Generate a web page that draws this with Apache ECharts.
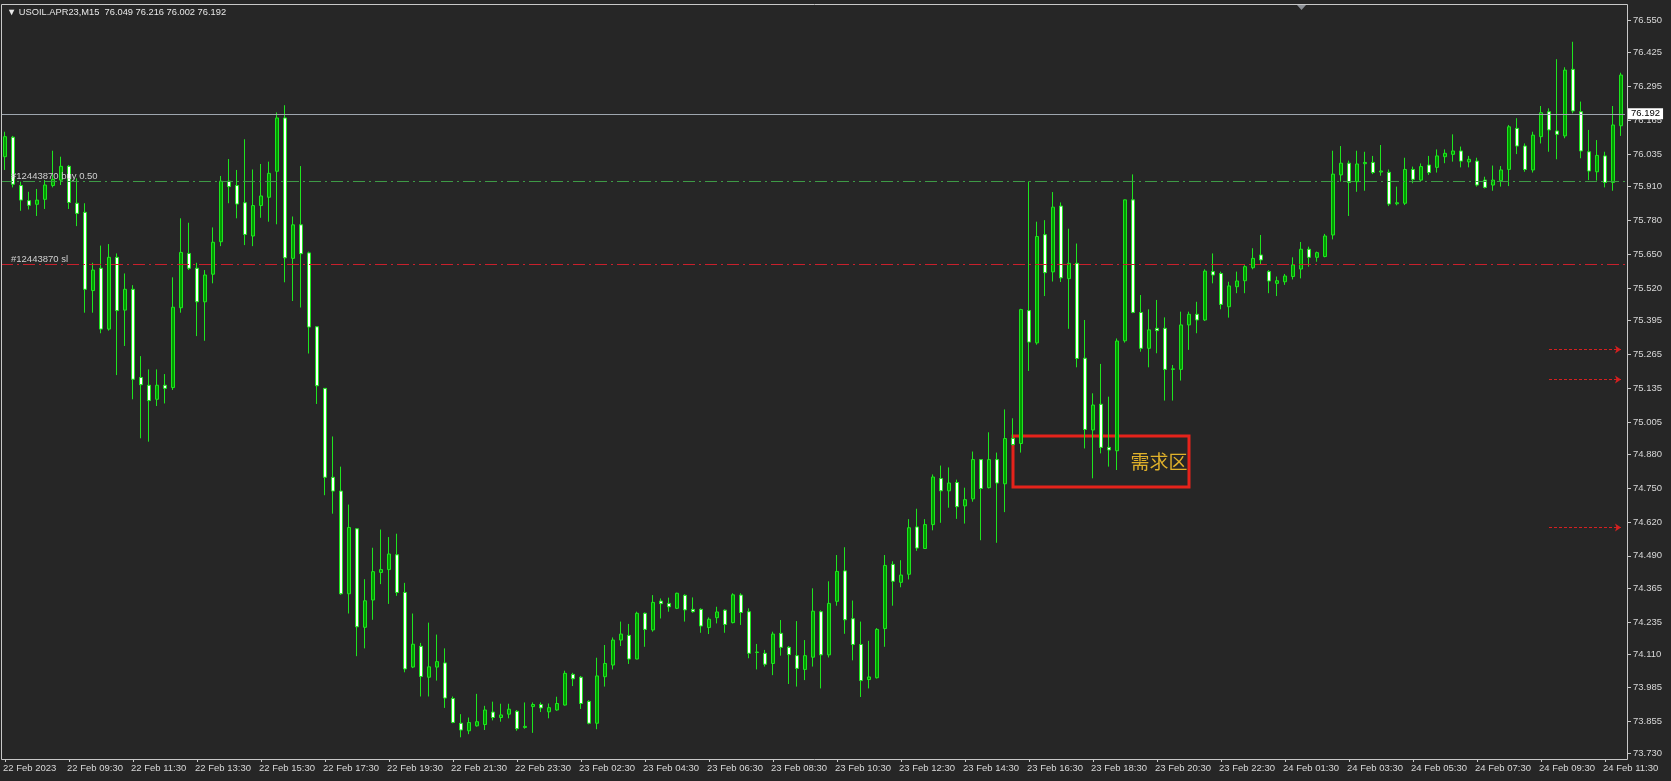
<!DOCTYPE html>
<html>
<head>
<meta charset="utf-8">
<title>USOIL.APR23,M15</title>
<script src="https://cdn.jsdelivr.net/npm/echarts@6/dist/echarts.min.js"></script>
<style>
  html, body { margin: 0; padding: 0; background: #262626; }
  #chart { width: 1671px; height: 781px; }
</style>
</head>
<body>
<div id="chart"></div>
<script>
// M15 bars, each row: open, high, low, close
const feb22 = [
  [76.025, 76.121, 75.974, 76.102], [76.100, 76.105, 75.907, 75.919], [75.914, 75.929, 75.817, 75.858],
  [75.856, 75.890, 75.822, 75.838], [75.842, 75.901, 75.797, 75.858], [75.861, 75.935, 75.824, 75.916],
  [75.914, 76.048, 75.907, 75.938], [75.935, 76.025, 75.916, 75.988], [75.988, 75.993, 75.824, 75.849],
  [75.846, 75.942, 75.758, 75.807], [75.811, 75.846, 75.425, 75.515], [75.510, 75.617, 75.425, 75.589],
  [75.596, 75.683, 75.346, 75.362], [75.362, 75.689, 75.356, 75.638], [75.638, 75.653, 75.185, 75.433],
  [75.435, 75.576, 75.297, 75.515], [75.515, 75.531, 75.092, 75.169], [75.176, 75.258, 74.942, 75.148],
  [75.146, 75.207, 74.929, 75.087], [75.092, 75.207, 75.066, 75.146], [75.146, 75.189, 75.076, 75.134],
  [75.137, 75.561, 75.128, 75.446], [75.444, 75.788, 75.425, 75.657], [75.653, 75.771, 75.589, 75.596],
  [75.596, 75.617, 75.335, 75.467], [75.467, 75.589, 75.317, 75.570], [75.573, 75.753, 75.538, 75.696],
  [75.698, 75.951, 75.681, 75.931], [75.931, 76.016, 75.846, 75.910], [75.914, 75.974, 75.788, 75.843],
  [75.848, 76.092, 75.685, 75.726], [75.720, 75.976, 75.681, 75.837], [75.837, 75.997, 75.790, 75.874],
  [75.869, 76.006, 75.775, 75.961], [75.969, 76.195, 75.765, 76.174], [76.174, 76.223, 75.542, 75.636],
  [75.634, 75.795, 75.470, 75.763], [75.763, 75.989, 75.445, 75.652], [75.655, 75.660, 75.268, 75.370],
  [75.371, 75.372, 75.074, 75.144], [75.134, 75.135, 74.723, 74.792], [74.792, 74.949, 74.652, 74.739],
  [74.739, 74.833, 74.340, 74.344], [74.344, 74.687, 74.268, 74.599], [74.594, 74.597, 74.104, 74.217],
  [74.215, 74.400, 74.134, 74.317], [74.320, 74.521, 74.244, 74.429], [74.426, 74.591, 74.381, 74.437],
  [74.437, 74.562, 74.305, 74.497], [74.494, 74.575, 74.336, 74.349], [74.349, 74.386, 74.042, 74.055],
  [74.062, 74.268, 74.058, 74.150], [74.142, 74.155, 73.949, 74.026], [74.023, 74.233, 73.949, 74.063],
  [74.062, 74.187, 74.010, 74.083], [74.078, 74.134, 73.905, 73.943], [73.941, 73.949, 73.846, 73.849],
  [73.846, 73.881, 73.792, 73.820], [73.817, 73.868, 73.804, 73.849], [73.836, 73.959, 73.833, 73.852],
  [73.841, 73.913, 73.820, 73.897], [73.889, 73.929, 73.857, 73.868], [73.868, 73.921, 73.852, 73.878],
  [73.881, 73.921, 73.865, 73.900], [73.892, 73.897, 73.817, 73.825], [73.830, 73.926, 73.825, 73.834]
];
const feb23 = [
  [73.910, 73.926, 73.809, 73.918], [73.918, 73.926, 73.889, 73.905], [73.890, 73.922, 73.865, 73.906],
  [73.897, 73.948, 73.894, 73.922], [73.916, 74.048, 73.914, 74.038], [74.034, 74.040, 73.989, 74.017],
  [74.023, 74.028, 73.901, 73.922], [73.930, 73.935, 73.842, 73.846], [73.846, 74.098, 73.823, 74.028],
  [74.025, 74.147, 73.987, 74.076], [74.070, 74.176, 74.053, 74.166], [74.166, 74.237, 74.143, 74.189],
  [74.184, 74.228, 74.074, 74.093], [74.093, 74.275, 74.092, 74.269], [74.269, 74.272, 74.140, 74.207],
  [74.205, 74.339, 74.198, 74.311], [74.316, 74.326, 74.249, 74.306], [74.307, 74.329, 74.275, 74.294],
  [74.288, 74.348, 74.285, 74.346], [74.338, 74.342, 74.237, 74.282], [74.284, 74.330, 74.271, 74.275],
  [74.284, 74.288, 74.194, 74.220], [74.214, 74.253, 74.189, 74.246], [74.252, 74.294, 74.230, 74.274],
  [74.281, 74.284, 74.194, 74.226], [74.233, 74.346, 74.230, 74.340], [74.339, 74.346, 74.224, 74.272],
  [74.275, 74.288, 74.096, 74.115], [74.118, 74.151, 74.053, 74.120], [74.115, 74.128, 74.064, 74.073],
  [74.076, 74.198, 74.031, 74.189], [74.192, 74.243, 74.106, 74.138], [74.138, 74.143, 73.997, 74.110],
  [74.106, 74.239, 73.987, 74.057], [74.053, 74.166, 74.012, 74.106], [74.100, 74.365, 74.064, 74.277],
  [74.275, 74.280, 73.980, 74.109], [74.109, 74.392, 74.099, 74.307], [74.315, 74.493, 74.298, 74.430],
  [74.432, 74.523, 74.190, 74.244], [74.248, 74.318, 74.088, 74.149], [74.149, 74.237, 73.947, 74.010],
  [74.014, 74.163, 73.980, 74.024], [74.021, 74.212, 74.018, 74.207], [74.210, 74.493, 74.140, 74.453],
  [74.457, 74.469, 74.298, 74.392], [74.388, 74.473, 74.369, 74.416], [74.419, 74.631, 74.399, 74.598],
  [74.601, 74.671, 74.509, 74.520], [74.518, 74.631, 74.516, 74.610], [74.610, 74.803, 74.588, 74.793],
  [74.787, 74.837, 74.617, 74.740], [74.740, 74.830, 74.675, 74.770], [74.772, 74.783, 74.632, 74.679],
  [74.682, 74.752, 74.614, 74.706], [74.709, 74.891, 74.698, 74.860], [74.860, 74.862, 74.550, 74.749],
  [74.752, 74.965, 74.749, 74.860], [74.860, 74.887, 74.540, 74.770], [74.767, 75.053, 74.658, 74.941],
  [74.941, 75.019, 74.914, 74.918], [74.922, 75.440, 74.887, 75.437], [75.433, 75.930, 75.201, 75.312],
  [75.309, 75.775, 75.302, 75.718], [75.725, 75.781, 75.489, 75.579], [75.582, 75.889, 75.545, 75.831],
  [75.835, 75.849, 75.543, 75.559], [75.556, 75.748, 75.363, 75.615], [75.615, 75.691, 75.215, 75.249],
  [75.250, 75.397, 74.903, 74.976], [74.974, 75.115, 74.788, 75.070], [75.073, 75.228, 74.884, 74.907],
  [74.907, 75.102, 74.833, 74.897], [74.894, 75.326, 74.820, 75.316], [75.317, 75.860, 75.310, 75.859],
  [75.859, 75.957, 75.423, 75.426], [75.426, 75.493, 75.275, 75.288], [75.288, 75.438, 75.215, 75.359],
  [75.365, 75.474, 75.269, 75.356], [75.365, 75.407, 75.087, 75.207], [75.207, 75.224, 75.087, 75.209],
  [75.207, 75.429, 75.164, 75.378], [75.378, 75.429, 75.282, 75.419], [75.419, 75.467, 75.346, 75.397],
  [75.397, 75.592, 75.393, 75.585], [75.583, 75.653, 75.538, 75.570], [75.576, 75.583, 75.438, 75.457],
  [75.448, 75.544, 75.406, 75.528], [75.525, 75.583, 75.500, 75.547], [75.548, 75.608, 75.500, 75.602],
  [75.598, 75.673, 75.592, 75.634], [75.647, 75.724, 75.612, 75.628]
];
const feb24 = [
  [75.583, 75.589, 75.500, 75.547], [75.538, 75.564, 75.489, 75.548], [75.544, 75.574, 75.532, 75.566],
  [75.564, 75.638, 75.553, 75.609], [75.593, 75.697, 75.557, 75.669], [75.669, 75.679, 75.602, 75.638],
  [75.638, 75.660, 75.621, 75.656], [75.641, 75.728, 75.638, 75.720], [75.724, 76.048, 75.707, 75.958],
  [75.955, 76.066, 75.929, 76.000], [76.000, 76.010, 75.797, 75.926], [75.929, 76.048, 75.890, 75.997],
  [75.998, 76.044, 75.894, 76.003], [76.003, 76.028, 75.958, 75.964], [75.966, 76.070, 75.952, 75.970],
  [75.965, 75.976, 75.835, 75.843], [75.844, 75.910, 75.838, 75.848], [75.846, 76.021, 75.839, 75.976],
  [75.976, 75.987, 75.923, 75.938], [75.935, 75.999, 75.929, 75.987], [75.993, 76.028, 75.955, 75.964],
  [75.984, 76.053, 75.964, 76.028], [76.025, 76.053, 76.000, 76.038], [76.034, 76.111, 76.006, 76.047],
  [76.047, 76.064, 75.984, 76.008], [76.005, 76.028, 75.984, 76.015], [76.008, 76.021, 75.910, 75.916],
  [75.935, 75.948, 75.903, 75.907], [75.916, 75.991, 75.894, 75.935], [75.933, 75.989, 75.910, 75.974],
  [75.976, 76.147, 75.912, 76.140], [76.134, 76.173, 76.035, 76.066], [76.066, 76.076, 75.967, 75.976],
  [75.974, 76.121, 75.964, 76.108], [76.102, 76.220, 76.076, 76.194], [76.198, 76.211, 76.044, 76.128],
  [76.124, 76.400, 76.015, 76.111], [76.105, 76.369, 76.096, 76.358], [76.361, 76.467, 76.192, 76.201],
  [76.198, 76.237, 76.019, 76.047], [76.044, 76.128, 75.935, 75.970], [75.967, 76.089, 75.933, 76.030],
  [76.028, 76.044, 75.907, 75.926], [75.926, 76.220, 75.894, 76.147], [76.144, 76.348, 76.105, 76.339]
];

const xTickLabels = [
  '22 Feb 2023', '22 Feb 09:30', '22 Feb 11:30', '22 Feb 13:30', '22 Feb 15:30', '22 Feb 17:30',
  '22 Feb 19:30', '22 Feb 21:30', '22 Feb 23:30', '23 Feb 02:30', '23 Feb 04:30', '23 Feb 06:30',
  '23 Feb 08:30', '23 Feb 10:30', '23 Feb 12:30', '23 Feb 14:30', '23 Feb 16:30', '23 Feb 18:30',
  '23 Feb 20:30', '23 Feb 22:30', '24 Feb 01:30', '24 Feb 03:30', '24 Feb 05:30', '24 Feb 07:30',
  '24 Feb 09:30', '24 Feb 11:30'
];
const yTickLabels = [
  '76.550', '76.425', '76.295', '76.165', '76.035', '75.910', '75.780', '75.650', '75.520', '75.395',
  '75.265', '75.135', '75.005', '74.880', '74.750', '74.620', '74.490', '74.365', '74.235', '74.110',
  '73.985', '73.855', '73.730'
];

const bidPrice = 76.192;
const buyLevel = 75.928;
const slLevel = 75.610;
const arrowLevels = [75.283, 75.168, 74.599];
const zoneBars = [126, 148];
const zonePrices = [74.755, 74.951];

// session start times (minutes) for the three trading days
const sessions = [
  { day: '22 Feb', start: 7 * 60 + 30, rows: feb22 },
  { day: '23 Feb', start: 60, rows: feb23 },
  { day: '24 Feb', start: 60, rows: feb24 }
];

const pad = n => String(n).padStart(2, '0');
const categories = [];
const candles = [];
sessions.forEach(s => {
  s.rows.forEach((r, i) => {
    const m = s.start + i * 15;
    categories.push(s.day + ' ' + pad(Math.floor(m / 60)) + ':' + pad(m % 60));
    candles.push([r[0], r[3], r[2], r[1]]); // echarts order: open, close, low, high
  });
});

const yTicks = yTickLabels.map(Number);
const lastBar = categories.length - 1;
const labelFont = 'Liberation Sans, Arial, sans-serif';
const dashDot = [12, 4, 2, 4];

const arrowLines = arrowLevels.map(v => [
  {
    coord: [lastBar - 9, v],
    symbol: 'none',
    lineStyle: { color: '#d42020', type: [3, 2], width: 1 },
    label: { show: false }
  },
  { coord: [lastBar, v], symbol: 'arrow', symbolSize: 6 }
]);

const chart = echarts.init(document.getElementById('chart'));

chart.setOption({
  backgroundColor: '#262626',
  animation: false,
  textStyle: { fontFamily: labelFont },
  title: {
    text: '▼ USOIL.APR23,M15  76.049 76.216 76.002 76.192',
    left: 7,
    top: 8,
    padding: 0,
    textStyle: { color: '#e8e8e8', fontSize: 9.3, fontWeight: 'normal', fontFamily: labelFont }
  },
  grid: { left: 1, right: 46, top: 4, bottom: 22 },
  xAxis: {
    type: 'category',
    data: categories,
    boundaryGap: true,
    axisLine: { show: false },
    axisTick: {
      show: true,
      interval: 7,
      alignWithLabel: true,
      length: 3,
      lineStyle: { color: '#c8c8c8' }
    },
    axisLabel: {
      interval: 7,
      align: 'left',
      margin: 4,
      padding: [0, 0, 0, -2],
      color: '#d8d8d8',
      fontSize: 9.5,
      formatter: (v, i) => xTickLabels[i / 8] || ''
    },
    splitLine: { show: false }
  },
  yAxis: {
    type: 'value',
    position: 'right',
    offset: 3,
    min: 73.7085,
    max: 76.6123,
    axisLine: { show: false },
    axisTick: {
      show: true,
      customValues: yTicks,
      length: 3,
      lineStyle: { color: '#c8c8c8' }
    },
    axisLabel: {
      customValues: yTicks,
      margin: 5,
      color: '#d8d8d8',
      fontSize: 9.5,
      formatter: v => v.toFixed(3)
    },
    splitLine: { show: false }
  },
  series: [
    {
      name: 'orders',
      type: 'line',
      data: [],
      z: 1,
      silent: true,
      markLine: {
        silent: true,
        symbol: 'none',
        animation: false,
        data: [
          {
            yAxis: bidPrice,
            lineStyle: { color: '#9ea6ae', type: 'solid', width: 1 },
            label: {
              show: true,
              position: 'end',
              distance: 3,
              formatter: bidPrice.toFixed(3),
              backgroundColor: '#ffffff',
              color: '#000000',
              padding: [1, 3, 0, 3],
              fontSize: 9.5,
              fontFamily: labelFont
            }
          },
          {
            yAxis: buyLevel,
            lineStyle: { color: '#3e9a46', type: dashDot, width: 1 },
            label: {
              show: true,
              position: 'insideStartTop',
              distance: [10, 0],
              formatter: '#12443870 buy 0.50',
              color: '#d0d0d0',
              fontSize: 9.5,
              fontFamily: labelFont
            }
          },
          {
            yAxis: slLevel,
            lineStyle: { color: '#c8202c', type: dashDot, width: 1 },
            label: {
              show: true,
              position: 'insideStartTop',
              distance: [10, 0],
              formatter: '#12443870 sl',
              color: '#d0d0d0',
              fontSize: 9.5,
              fontFamily: labelFont
            }
          },
          ...arrowLines
        ]
      }
    },
    {
      name: 'USOIL.APR23',
      type: 'candlestick',
      data: candles,
      z: 3,
      barWidth: 4,
      itemStyle: {
        color: '#009a00',
        color0: '#ffffff',
        borderColor: '#1ee61e',
        borderColor0: '#1ee61e',
        borderWidth: 1
      }
    },
    {
      name: 'zone',
      type: 'line',
      data: [],
      z: 5,
      silent: true,
      markArea: {
        silent: true,
        itemStyle: { color: 'rgba(0,0,0,0)', borderColor: '#e5231b', borderWidth: 3 },
        label: {
          show: true,
          position: 'insideRight',
          distance: 3,
          formatter: '需求区',
          color: '#e0b12a',
          fontSize: 19,
          fontFamily: 'Noto Sans CJK SC'
        },
        data: [[
          { xAxis: zoneBars[0], yAxis: zonePrices[1] },
          { xAxis: zoneBars[1], yAxis: zonePrices[0] }
        ]]
      }
    }
  ],
  graphic: [
    {
      type: 'rect',
      silent: true,
      z: 10,
      shape: { x: 1.5, y: 4.5, width: 1626, height: 755 },
      style: { fill: 'none', stroke: '#c8c8c8', lineWidth: 1 }
    },
    {
      type: 'polygon',
      silent: true,
      z: 10,
      shape: { points: [[1297, 5], [1306, 5], [1301.5, 10]] },
      style: { fill: '#8c9096' }
    }
  ]
});

window.addEventListener('resize', () => chart.resize());
</script>
</body>
</html>
